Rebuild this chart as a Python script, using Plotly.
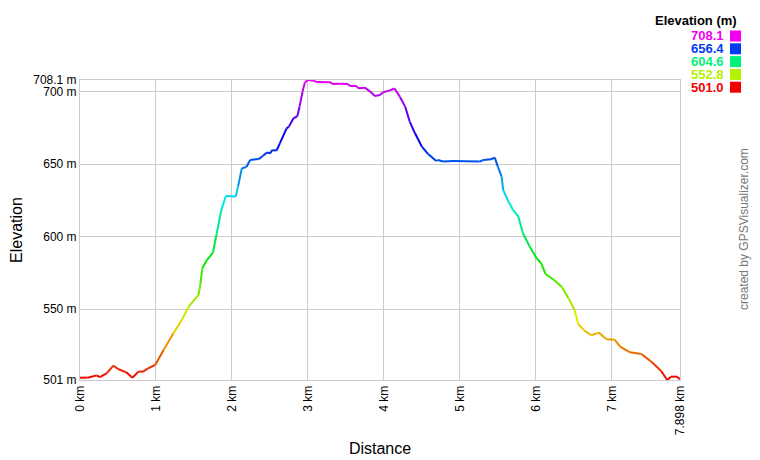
import colorsys
import plotly.graph_objects as go

# elevation profile
dist_km = [0.00, 0.10, 0.22, 0.26, 0.35, 0.44, 0.50, 0.61, 0.69, 0.77, 0.83, 0.90, 0.99, 1.10, 1.23,
           1.34, 1.43, 1.56, 1.58, 1.61, 1.67, 1.75, 1.80, 1.86, 1.92, 2.05, 2.08, 2.13, 2.19, 2.24,
           2.35, 2.41, 2.46, 2.51, 2.52, 2.59, 2.63, 2.72, 2.75, 2.81, 2.86, 2.89, 2.93, 2.96, 3.00,
           3.08, 3.11, 3.29, 3.33, 3.42, 3.53, 3.55, 3.64, 3.66, 3.75, 3.82, 3.88, 3.95, 3.99, 4.06,
           4.14, 4.21, 4.28, 4.34, 4.41, 4.50, 4.58, 4.69, 4.71, 4.78, 4.91, 5.26, 5.31, 5.41, 5.46,
           5.50, 5.55, 5.57, 5.64, 5.70, 5.77, 5.83, 5.92, 6.01, 6.07, 6.13, 6.23, 6.34, 6.43, 6.51,
           6.56, 6.64, 6.73, 6.83, 6.93, 7.04, 7.11, 7.24, 7.39, 7.52, 7.65, 7.73, 7.78, 7.86, 7.898]
elev_m = [502.6, 502.6, 504.2, 503.0, 505.6, 510.9, 508.6, 506.3, 502.6, 506.8, 506.8, 509.1, 511.4,
          521.7, 533.2, 542.4, 551.6, 559.7, 565.4, 578.1, 583.8, 588.9, 602.3, 618.3, 628.0, 627.6,
          634.5, 647.1, 648.0, 652.9, 653.5, 655.8, 658.1, 657.5, 659.4, 659.6, 664.4, 674.7, 675.9,
          681.7, 683.0, 689.7, 700.1, 706.3, 708.1, 707.6, 706.8, 706.6, 705.3, 705.5, 705.3, 704.0,
          704.0, 702.4, 702.8, 700.1, 697.1, 697.8, 699.6, 700.6, 702.2, 696.6, 689.7, 679.4, 671.3,
          662.1, 657.1, 652.2, 652.9, 651.8, 652.2, 651.8, 652.9, 653.4, 654.5, 648.3, 641.4, 632.2,
          624.2, 618.4, 613.8, 602.3, 593.1, 585.1, 581.6, 574.0, 570.5, 565.4, 557.4, 549.3, 539.5,
          535.1, 531.9, 533.7, 529.2, 528.7, 524.0, 520.1, 519.0, 513.7, 507.2, 501.0, 503.3, 503.3,
          501.5]

y_ticks = [501, 550, 600, 650, 700, 708.1]
y_labels = ["501 m", "550 m", "600 m", "650 m", "700 m", "708.1 m"]
x_ticks = [0, 1, 2, 3, 4, 5, 6, 7, 7.898]
x_labels = ["0 km", "1 km", "2 km", "3 km", "4 km", "5 km", "6 km", "7 km", "7.898 km"]
legend_vals = [708.1, 656.4, 604.6, 552.8, 501.0]

E_MIN, E_MAX = 501.0, 708.1
FONT = "Arial, Liberation Sans, sans-serif"
GRID = "#cccccc"


def elev_color(e, v=0.92):
    h = (e - E_MIN) / (E_MAX - E_MIN) * 300 / 360
    r, g, b = colorsys.hsv_to_rgb(max(0, min(h, 300 / 360)), 1, v)
    return "rgb(%d,%d,%d)" % (r * 255, g * 255, b * 255)


# plot area is 80..680 px wide, 80..380 px tall
def px_x(p):
    return (p - 80) / 600


def px_y(p):
    return (380 - p) / 300


fig = go.Figure()
for i in range(len(dist_km) - 1):
    mid = (elev_m[i] + elev_m[i + 1]) / 2
    fig.add_trace(go.Scatter(x=dist_km[i:i + 2], y=elev_m[i:i + 2], mode="lines",
                             line=dict(color=elev_color(mid), width=2),
                             showlegend=False, hoverinfo="skip"))

# colour key, top right
fig.add_annotation(x=px_x(739), y=px_y(21), xref="paper", yref="paper", xanchor="right",
                   yanchor="middle", showarrow=False, text="<b>Elevation (m)</b>",
                   font=dict(family=FONT, size=13, color="black"))
for k, v in enumerate(legend_vals):
    yc = 36 + k * 12.8
    fig.add_annotation(x=px_x(726), y=px_y(yc), xref="paper", yref="paper", xanchor="right",
                       yanchor="middle", showarrow=False, text="<b>%.1f</b>" % v,
                       font=dict(family=FONT, size=13, color=elev_color(v, 0.95)))
    fig.add_shape(type="rect", xref="paper", yref="paper", x0=px_x(730), x1=px_x(741),
                  y0=px_y(yc - 5.5), y1=px_y(yc + 5.5), line=dict(width=0),
                  fillcolor=elev_color(v, 0.95))

fig.add_annotation(x=px_x(753), y=px_y(229), xref="paper", yref="paper", showarrow=False,
                   text="created by GPSVisualizer.com", textangle=-90,
                   font=dict(family=FONT, size=12, color="#777777"))

fig.update_layout(
    width=760, height=460,
    margin=dict(l=80, r=80, t=80, b=80),
    paper_bgcolor="white", plot_bgcolor="white",
    font=dict(family=FONT, size=12, color="black"),
    xaxis=dict(range=[0, 7.898], tickvals=x_ticks, ticktext=x_labels, tickangle=-90,
               showgrid=True, gridcolor=GRID, zeroline=False, showline=True, linecolor=GRID,
               mirror=True, ticks="", tickfont=dict(size=12), automargin=False,
               title=dict(text="Distance", font=dict(size=16), standoff=8)),
    yaxis=dict(range=[501, 708.1], tickvals=y_ticks, ticktext=y_labels,
               showgrid=True, gridcolor=GRID, zeroline=False, showline=True, linecolor=GRID,
               mirror=True, ticks="", tickfont=dict(size=12), automargin=False,
               title=dict(text="Elevation", font=dict(size=16), standoff=6)),
)

fig.write_html("out.html", config={"displayModeBar": False},
               post_script="document.body.style.margin = '0';")
